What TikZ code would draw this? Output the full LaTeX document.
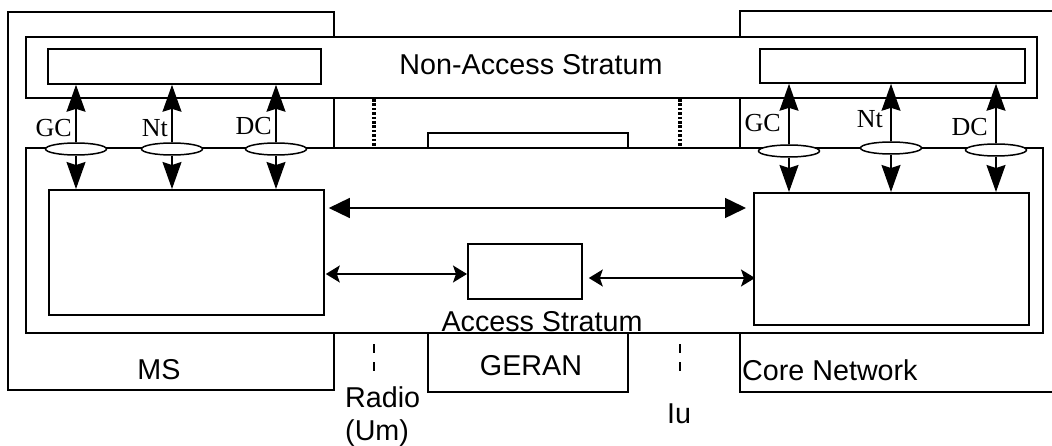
\documentclass[tikz,border=0pt]{standalone}
\usepackage{fontspec}
\setmainfont{Liberation Serif}
\setsansfont{Liberation Sans}
\usetikzlibrary{arrows.meta,shapes.geometric}

\tikzset{
  frame/.style={line width=1.8pt},
  blk/.style={draw, line width=1.8pt, fill=white, inner sep=0pt, anchor=north west},
  chan/.style={draw, ellipse, line width=1.5pt, fill=white, minimum width=61pt, minimum height=12pt, inner sep=0pt},
  txt/.style={font=\fontsize{28.7}{33}\selectfont\sffamily, inner sep=0pt},
  lbl/.style={font=\fontsize{26}{29}\selectfont, inner sep=0pt},
  vtip/.style={line width=1.4pt, -{Stealth[length=27pt,width=19pt,inset=3pt]}},
  bigtip/.style={line width=1.5pt, {Triangle[length=21pt,width=20pt]}-{Triangle[length=21pt,width=20pt]}},
  smalltip/.style={line width=1.6pt, {Stealth[length=14pt,width=17pt,inset=3pt]}-{Stealth[length=14pt,width=17pt,inset=3pt]}}
}

\begin{document}
\begin{tikzpicture}[x=1pt,y=-1pt]
  \useasboundingbox (0,0) rectangle (1052,446);
  \clip (0,0) rectangle (1052,446);
  % outer boxes
  \draw[frame] (8,12) rectangle (334,390);
  \draw[frame] (1056,11) -- (740,11) -- (740,392) -- (1056,392);
  \draw[frame] (428,133) rectangle (628,392);
  % interfaces
  \foreach \x in {374,680} {
    \draw[line width=3.2pt, dash pattern=on 2.6pt off 1.8pt] (\x,99) -- (\x,147);
    \draw[line width=1.5pt, dash pattern=on 9pt off 9pt] (\x,344) -- (\x,372);
  }
  % strata
  \draw[frame, fill=white] (26,37) rectangle (1037,98);
  \draw[frame, fill=white] (26,148) rectangle (1043,333);

  \node[blk, minimum width=273pt, minimum height=35pt] (nasms) at (47,48) {};
  \node[blk, minimum width=265pt, minimum height=34pt] (nascn) at (759,48) {};
  \node[blk, minimum width=275pt, minimum height=125pt] (asms) at (48,189) {};
  \node[blk, minimum width=275pt, minimum height=132pt] (ascn) at (753,192) {};
  \node[blk, minimum width=114pt, minimum height=55pt] (asbox) at (467,243) {};

  % service access points
  \foreach \x/\ey/\t/\ly [count=\i] in {76/149/GC/137, 172/149/Nt/137, 276/149/DC/135} {
    \node[chan] (msch\i) at (\x,\ey) {};
    \node[lbl, anchor=base east] (mslbl\i) at (\x-4,\ly) {\t};
    \draw[vtip] (msch\i.north) -- (msch\i.north |- nasms.south);
    \draw[vtip] (msch\i.south) -- (msch\i.south |- asms.north);
  }
  \foreach \x/\ey/\t/\ly [count=\i] in {789/151/GC/132, 891/148/Nt/128, 996/150/DC/136} {
    \node[chan] (cnch\i) at (\x,\ey) {};
    \node[lbl, anchor=base east] (cnlbl\i) at (\x-8,\ly) {\t};
    \draw[vtip] (cnch\i.north) -- (cnch\i.north |- nascn.south);
    \draw[vtip] (cnch\i.south) -- (cnch\i.south |- ascn.north);
  }

  % peer arrows
  \draw[bigtip, shorten <=4pt, shorten >=7pt] (asms.east |- 0,208) -- (ascn.west |- 0,208);
  \draw[smalltip, shorten <=1pt] (asms.east |- 0,274) -- (asbox.west |- 0,274);
  \draw[smalltip, shorten <=6pt, shorten >=-2pt] (asbox.east |- 0,278) -- (ascn.west |- 0,278);

  % texts
  \node[txt, anchor=base] (nastxt) at (531,75) {Non-Access Stratum};
  \node[txt, anchor=base] (astxt) at (542,331) {Access Stratum};
  \node[txt, anchor=base] (mstxt) at (159,379) {MS};
  \node[txt, anchor=base] (gerantxt) at (531,375) {GERAN};
  \node[txt, anchor=base west] (cntxt) at (742,380) {Core Network};
  \node[txt, anchor=base west] (radiotxt) at (345,407) {Radio};
  \node[txt, anchor=base west] (umtxt) at (345,440) {(Um)};
  \node[txt, anchor=base] (iutxt) at (679,423) {Iu};
\end{tikzpicture}
\end{document}
